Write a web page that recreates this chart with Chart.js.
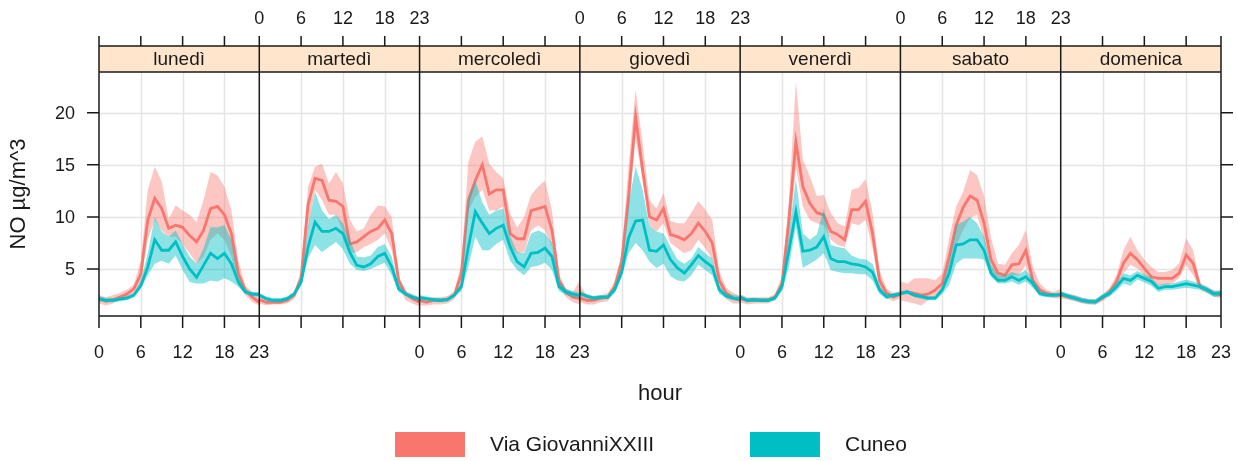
<!DOCTYPE html>
<html>
<head>
<meta charset="utf-8">
<script src="https://cdn.jsdelivr.net/npm/chart.js@4.4.0/dist/chart.umd.min.js"></script>
<style>
  html, body { margin: 0; padding: 0; background: #fff; }
</style>
</head>
<body>
<canvas id="grafico" width="1238" height="461"></canvas>
<script>
// giorni della settimana (pannelli)
const giorni = ["lunedì", "martedì", "mercoledì", "giovedì", "venerdì", "sabato", "domenica"];
const ore = [0, 1, 2, 3, 4, 5, 6, 7, 8, 9, 10, 11, 12, 13, 14, 15, 16, 17, 18, 19, 20, 21, 22, 23];
const oreEtichette = [0, 6, 12, 18, 23];
const yEtichette = [5, 10, 15, 20];
const serie = ["Via GiovanniXXIII", "Cuneo"];

// Via GiovanniXXIII: media, limite inferiore e superiore (una riga per giorno)
const viaMedia = [
  [2.15, 1.9, 2.05, 2.3, 2.6, 3.1, 4.5, 9.7, 11.8, 10.8, 8.9, 9.2, 9.0, 8.2, 7.6, 8.7, 10.8, 11.0, 10.2, 8.4, 4.55, 2.95, 2.3, 1.8],
  [2.05, 1.8, 1.8, 1.8, 2.0, 2.5, 4.1, 11.2, 13.7, 13.5, 11.6, 11.5, 11.0, 7.4, 7.6, 8.1, 8.6, 8.9, 9.7, 8.4, 3.9, 2.6, 2.15, 1.8],
  [2.0, 1.8, 2.0, 2.0, 2.1, 2.5, 4.55, 11.6, 13.5, 15.0, 12.2, 12.6, 12.6, 8.4, 7.9, 7.9, 10.6, 10.8, 11.0, 8.7, 3.9, 2.8, 2.3, 2.15],
  [2.2, 2.0, 2.0, 2.2, 2.3, 3.3, 5.7, 12.0, 19.6, 14.5, 10.0, 9.7, 10.8, 8.3, 8.1, 7.8, 8.4, 9.4, 8.6, 7.5, 3.9, 2.7, 2.2, 2.0],
  [2.2, 1.95, 2.0, 2.0, 2.0, 2.3, 3.6, 9.7, 17.2, 12.9, 11.3, 10.4, 10.2, 8.6, 8.3, 7.8, 10.7, 10.7, 11.5, 8.4, 3.9, 2.7, 2.3, 2.6],
  [2.65, 2.8, 2.65, 2.5, 2.6, 3.0, 3.6, 6.2, 9.2, 10.9, 12.0, 11.6, 9.4, 5.9, 4.6, 4.4, 5.4, 5.5, 6.8, 3.9, 3.0, 2.65, 2.5, 2.5],
  [2.5, 2.35, 2.2, 2.0, 1.85, 1.85, 2.2, 2.8, 3.8, 5.55, 6.5, 5.9, 5.05, 4.25, 4.1, 4.1, 4.1, 4.6, 6.35, 5.55, 3.3, 3.0, 2.65, 2.5]
];
const viaBasso = [
  [1.7, 1.5, 1.7, 2.0, 2.2, 2.7, 3.75, 7.8, 9.7, 8.7, 8.1, 8.1, 7.4, 6.5, 5.5, 6.2, 7.8, 8.4, 7.8, 6.2, 3.4, 2.5, 1.8, 1.5],
  [1.7, 1.5, 1.6, 1.6, 1.7, 2.1, 3.5, 8.7, 12.6, 11.6, 10.2, 10.2, 8.6, 6.5, 6.6, 7.1, 7.4, 7.8, 8.4, 6.8, 3.3, 2.0, 1.7, 1.4],
  [1.5, 1.5, 1.6, 1.6, 1.7, 2.1, 3.5, 10.6, 11.9, 12.6, 10.6, 10.6, 11.0, 7.1, 6.5, 6.6, 8.7, 9.2, 8.7, 7.1, 3.3, 2.3, 1.8, 1.6],
  [1.8, 1.6, 1.6, 1.8, 1.9, 2.8, 4.8, 10.5, 17.6, 13.6, 9.1, 8.6, 9.4, 7.5, 7.0, 6.5, 6.8, 7.8, 7.0, 5.9, 3.0, 2.1, 1.7, 1.7],
  [1.8, 1.6, 1.7, 1.7, 1.7, 2.0, 3.0, 7.8, 14.7, 11.0, 9.7, 9.4, 9.2, 7.8, 7.3, 7.1, 9.4, 9.2, 9.7, 7.0, 3.1, 2.2, 1.9, 2.2],
  [2.0, 1.85, 1.7, 1.5, 2.0, 2.3, 3.0, 4.5, 7.2, 8.75, 9.9, 10.2, 7.8, 4.8, 3.9, 3.8, 4.4, 4.4, 5.4, 3.3, 2.5, 2.35, 2.2, 2.2],
  [2.2, 2.05, 1.9, 1.7, 1.6, 1.6, 1.9, 2.4, 3.3, 4.6, 5.4, 5.05, 4.4, 3.6, 3.45, 3.5, 3.6, 4.1, 5.4, 4.4, 3.0, 2.7, 2.35, 2.2]
];
const viaAlto = [
  [2.5, 2.3, 2.5, 2.7, 3.0, 3.5, 5.8, 12.6, 14.8, 13.4, 9.8, 11.1, 10.6, 10.2, 9.5, 11.6, 14.3, 14.0, 12.9, 10.6, 5.8, 3.4, 2.8, 2.1],
  [2.4, 2.1, 2.1, 2.1, 2.3, 2.8, 4.8, 12.9, 14.8, 15.1, 13.2, 14.3, 13.2, 9.7, 8.6, 8.9, 10.2, 11.1, 11.0, 10.0, 4.3, 2.9, 2.6, 2.3],
  [2.3, 2.1, 2.3, 2.3, 2.4, 2.9, 5.5, 15.3, 17.2, 17.7, 15.1, 14.3, 13.7, 10.3, 9.0, 10.0, 12.1, 12.9, 13.5, 10.6, 4.5, 3.1, 2.8, 3.9],
  [3.5, 2.4, 2.4, 2.5, 2.7, 3.8, 6.5, 15.0, 22.2, 17.1, 11.6, 10.8, 12.3, 9.6, 9.4, 9.4, 10.4, 11.5, 10.7, 9.7, 4.8, 3.2, 2.7, 2.4],
  [2.6, 2.3, 2.3, 2.3, 2.3, 2.6, 4.3, 11.6, 23.0, 15.5, 13.9, 12.0, 12.1, 10.4, 9.4, 9.1, 12.6, 12.8, 13.6, 10.4, 4.9, 3.1, 2.7, 2.9],
  [3.8, 3.6, 4.1, 4.1, 4.1, 3.9, 4.6, 8.0, 11.0, 12.4, 14.5, 14.0, 12.0, 8.0, 5.5, 5.4, 6.5, 7.3, 8.75, 5.2, 3.6, 3.0, 2.8, 3.1],
  [2.8, 2.65, 2.5, 2.3, 2.1, 2.1, 2.5, 3.2, 4.4, 6.8, 8.1, 6.8, 5.9, 5.2, 4.7, 4.7, 4.9, 5.55, 7.95, 6.8, 3.6, 3.3, 2.95, 2.8]
];

// Cuneo: media, limite inferiore e superiore
const cuneoMedia = [
  [2.15, 2.0, 2.0, 2.1, 2.2, 2.5, 3.4, 5.2, 7.8, 6.8, 6.8, 7.6, 6.2, 5.0, 4.2, 5.35, 6.5, 6.0, 6.5, 5.5, 3.75, 2.8, 2.6, 2.55],
  [2.5, 2.15, 2.0, 2.0, 2.15, 2.6, 3.75, 7.1, 9.5, 8.6, 8.6, 8.9, 8.4, 6.6, 5.35, 5.2, 5.5, 6.2, 6.5, 5.2, 3.1, 2.6, 2.3, 2.1],
  [2.25, 2.15, 2.05, 2.0, 2.05, 2.5, 3.3, 7.1, 10.5, 9.4, 8.4, 8.9, 9.2, 7.1, 5.7, 5.2, 6.5, 6.6, 7.0, 6.2, 3.3, 2.8, 2.6, 2.45],
  [2.65, 2.4, 2.2, 2.3, 2.3, 3.0, 4.7, 8.0, 9.6, 9.7, 6.8, 6.7, 7.3, 5.9, 5.1, 4.6, 5.4, 6.3, 5.7, 5.2, 3.0, 2.4, 2.2, 2.1],
  [2.3, 2.0, 2.05, 2.0, 2.0, 2.2, 3.3, 6.8, 10.5, 6.7, 6.8, 7.1, 8.1, 6.0, 5.7, 5.7, 5.5, 5.4, 5.2, 4.7, 3.0, 2.35, 2.5, 2.6],
  [2.65, 2.8, 2.5, 2.35, 2.2, 2.2, 3.0, 4.6, 7.3, 7.4, 7.8, 7.8, 6.8, 4.6, 3.9, 3.9, 4.25, 3.9, 4.25, 3.6, 2.65, 2.5, 2.5, 2.55],
  [2.65, 2.4, 2.2, 2.0, 1.9, 1.85, 2.35, 2.65, 3.3, 4.1, 3.9, 4.4, 4.1, 3.8, 3.15, 3.3, 3.3, 3.45, 3.6, 3.45, 3.3, 3.0, 2.6, 2.7]
];
const cuneoBasso = [
  [1.9, 1.8, 1.8, 1.9, 2.0, 2.3, 3.1, 4.4, 5.5, 5.8, 5.5, 6.3, 4.9, 3.75, 3.6, 3.6, 3.9, 3.8, 4.1, 3.8, 3.3, 2.6, 2.4, 2.3],
  [2.3, 1.95, 1.8, 1.8, 1.95, 2.4, 3.4, 6.0, 7.3, 6.6, 7.1, 7.6, 6.9, 5.5, 4.9, 4.8, 5.0, 5.3, 5.6, 4.4, 2.8, 2.4, 2.1, 1.9],
  [2.0, 1.95, 1.85, 1.8, 1.85, 2.3, 2.9, 5.2, 8.1, 6.8, 6.8, 7.4, 7.8, 5.8, 4.9, 4.4, 5.2, 5.3, 5.6, 4.9, 2.9, 2.5, 2.3, 2.2],
  [2.4, 2.2, 2.0, 2.1, 2.1, 2.7, 4.2, 6.5, 7.5, 6.8, 5.7, 5.1, 5.5, 4.3, 3.9, 3.8, 4.4, 5.4, 4.9, 4.4, 2.6, 2.2, 2.0, 1.9],
  [2.1, 1.8, 1.85, 1.8, 1.8, 2.0, 2.9, 5.2, 9.1, 5.1, 5.5, 5.9, 6.5, 4.9, 4.7, 4.6, 4.6, 4.5, 4.5, 3.9, 2.6, 2.1, 2.3, 2.4],
  [2.45, 2.6, 2.3, 2.15, 2.0, 2.0, 2.6, 3.5, 5.5, 6.0, 6.0, 6.0, 5.9, 4.25, 3.6, 3.6, 3.8, 3.5, 3.8, 3.2, 2.4, 2.3, 2.3, 2.35],
  [2.4, 2.15, 1.95, 1.75, 1.65, 1.6, 2.1, 2.35, 2.9, 3.6, 3.4, 4.0, 3.7, 3.4, 2.8, 3.0, 3.0, 3.1, 3.2, 3.1, 3.0, 2.7, 2.3, 2.4]
];
const cuneoAlto = [
  [2.4, 2.2, 2.2, 2.3, 2.4, 2.7, 3.9, 6.5, 10.0, 8.6, 8.1, 8.7, 7.4, 6.2, 5.5, 7.0, 9.0, 9.0, 9.2, 7.8, 4.2, 3.0, 2.8, 2.8],
  [2.7, 2.35, 2.2, 2.2, 2.35, 2.8, 4.1, 9.0, 12.4, 10.6, 9.8, 10.2, 9.4, 7.8, 6.2, 6.1, 6.3, 7.1, 7.4, 6.2, 3.5, 2.8, 2.5, 2.3],
  [2.5, 2.35, 2.25, 2.2, 2.25, 2.7, 3.7, 11.9, 13.5, 11.4, 10.2, 10.6, 10.8, 8.2, 6.6, 6.5, 8.4, 8.7, 8.4, 7.5, 3.8, 3.1, 2.9, 2.7],
  [2.9, 2.6, 2.4, 2.5, 2.5, 3.3, 5.2, 11.3, 14.8, 12.6, 9.1, 8.6, 8.4, 7.1, 5.9, 5.5, 6.0, 7.1, 6.5, 6.0, 3.4, 2.7, 2.5, 2.4],
  [2.5, 2.2, 2.25, 2.2, 2.2, 2.4, 3.7, 8.4, 13.6, 8.4, 7.8, 8.3, 10.8, 7.3, 7.1, 7.0, 6.3, 6.0, 5.9, 5.5, 3.4, 2.6, 2.7, 2.8],
  [2.85, 3.0, 2.7, 2.55, 2.4, 2.4, 3.4, 5.8, 9.2, 9.55, 10.0, 9.4, 8.1, 5.4, 4.4, 4.4, 4.7, 4.5, 4.9, 4.1, 2.9, 2.7, 2.7, 2.75],
  [2.9, 2.65, 2.45, 2.25, 2.15, 2.1, 2.6, 2.95, 3.7, 4.6, 4.4, 4.8, 4.5, 4.2, 3.5, 3.6, 3.6, 3.8, 4.0, 3.8, 3.6, 3.3, 2.9, 3.0]
];

// colori
const rosso = "#F8766D";
const rossoBanda = "rgba(248, 118, 109, 0.42)";
const verde = "#00BFC4";
const verdeBanda = "rgba(0, 191, 196, 0.45)";
const font = "'Liberation Sans', Arial, sans-serif";

// ogni giorno occupa 23 unità sull'asse x
const ORE_GIORNO = 23;

function punti(valori, d) {
  return ore.map((h, i) => ({ x: d * ORE_GIORNO + h, y: valori[d][i] }));
}

// costruisce i dataset: banda (basso + alto riempito) e linea media
const datasets = [];
const gruppi = [
  { media: viaMedia, basso: viaBasso, alto: viaAlto, linea: rosso, banda: rossoBanda, ordBanda: 4, ordLinea: 3 },
  { media: cuneoMedia, basso: cuneoBasso, alto: cuneoAlto, linea: verde, banda: verdeBanda, ordBanda: 2, ordLinea: 1 }
];
gruppi.forEach(g => {
  giorni.forEach((giorno, d) => {
    const iBasso = datasets.length;
    datasets.push({
      data: punti(g.basso, d),
      borderColor: "rgba(0,0,0,0)",
      borderWidth: 1,
      pointRadius: 0,
      fill: false,
      order: g.ordBanda
    });
    datasets.push({
      data: punti(g.alto, d),
      borderColor: "rgba(0,0,0,0)",
      borderWidth: 1,
      pointRadius: 0,
      backgroundColor: g.banda,
      fill: iBasso,
      order: g.ordBanda
    });
    datasets.push({
      data: punti(g.media, d),
      borderColor: g.linea,
      borderWidth: 2.8,
      pointRadius: 0,
      fill: false,
      order: g.ordLinea
    });
  });
});

// griglia, strisce, cornici, tacche ed etichette
const cornice = {
  id: "cornice",
  beforeDatasetsDraw(chart) {
    const { ctx, chartArea: a, scales: { x, y } } = chart;
    ctx.save();
    ctx.strokeStyle = "#e4e4e4";
    ctx.lineWidth = 1.5;
    yEtichette.forEach(v => {
      const py = Math.round(y.getPixelForValue(v)) + 0.5;
      ctx.beginPath(); ctx.moveTo(a.left, py); ctx.lineTo(a.right, py); ctx.stroke();
    });
    giorni.forEach((g, d) => {
      [6, 12, 18].forEach(h => {
        const px = Math.round(x.getPixelForValue(d * ORE_GIORNO + h)) + 0.5;
        ctx.beginPath(); ctx.moveTo(px, a.top); ctx.lineTo(px, a.bottom); ctx.stroke();
      });
    });
    ctx.restore();
  },
  afterDatasetsDraw(chart) {
    const { ctx, chartArea: a, scales: { x, y } } = chart;
    const stripTop = a.top - 26;
    ctx.save();

    // strisce con i nomi dei giorni
    giorni.forEach((g, d) => {
      const x0 = x.getPixelForValue(d * ORE_GIORNO);
      const x1 = x.getPixelForValue((d + 1) * ORE_GIORNO);
      ctx.fillStyle = "#FFE5CC";
      ctx.fillRect(x0, stripTop, x1 - x0, a.top - stripTop);
      ctx.fillStyle = "#1a1a1a";
      ctx.font = "19px " + font;
      ctx.textAlign = "center";
      ctx.textBaseline = "middle";
      ctx.fillText(g, (x0 + x1) / 2, (stripTop + a.top) / 2 + 1);
    });

    // linee della cornice
    ctx.strokeStyle = "#1a1a1a";
    ctx.lineWidth = 1.5;
    ctx.beginPath();
    [stripTop, a.top, a.bottom].forEach(py => {
      ctx.moveTo(a.left, py); ctx.lineTo(a.right, py);
    });
    for (let d = 0; d <= giorni.length; d++) {
      const px = x.getPixelForValue(d * ORE_GIORNO);
      ctx.moveTo(px, stripTop); ctx.lineTo(px, a.bottom);
    }
    ctx.stroke();

    // tacche e etichette dell'asse x (alternate sotto e sopra)
    ctx.font = "18px " + font;
    ctx.fillStyle = "#1a1a1a";
    ctx.textAlign = "center";
    ctx.textBaseline = "middle";
    ctx.beginPath();
    giorni.forEach((g, d) => {
      oreEtichette.forEach(h => {
        const px = x.getPixelForValue(d * ORE_GIORNO + h);
        ctx.moveTo(px, stripTop - 10); ctx.lineTo(px, stripTop);
        ctx.moveTo(px, a.bottom); ctx.lineTo(px, a.bottom + 12);
        if (d % 2 === 0) {
          ctx.fillText(String(h), px, a.bottom + 37);
        } else {
          ctx.fillText(String(h), px, stripTop - 27);
        }
      });
    });
    // tacche e etichette dell'asse y
    ctx.textAlign = "right";
    yEtichette.forEach(v => {
      const py = y.getPixelForValue(v);
      ctx.moveTo(a.left - 12, py); ctx.lineTo(a.left, py);
      ctx.moveTo(a.right, py); ctx.lineTo(a.right + 12, py);
      ctx.fillText(String(v), a.left - 24, py + 1);
    });
    ctx.stroke();

    // titoli degli assi
    ctx.font = "22px " + font;
    ctx.textAlign = "center";
    ctx.fillText("hour", (a.left + a.right) / 2, 394);
    ctx.save();
    ctx.translate(19, (a.top + a.bottom) / 2);
    ctx.rotate(-Math.PI / 2);
    ctx.fillText("NO µg/m^3", 0, 0);
    ctx.restore();

    // legenda
    const voci = [
      { testo: serie[0], colore: rosso, x: 395 },
      { testo: serie[1], colore: verde, x: 750 }
    ];
    ctx.font = "21px " + font;
    ctx.textAlign = "left";
    voci.forEach(v => {
      ctx.fillStyle = v.colore;
      ctx.fillRect(v.x, 432, 70, 25);
      ctx.fillStyle = "#1a1a1a";
      ctx.fillText(v.testo, v.x + 95, 445);
    });
    ctx.restore();
  }
};

const ctx = document.getElementById("grafico").getContext("2d");
new Chart(ctx, {
  type: "line",
  data: { datasets: datasets },
  options: {
    responsive: false,
    animation: false,
    devicePixelRatio: 1,
    layout: { padding: { left: 99, right: 17, top: 72, bottom: 145 } },
    elements: { line: { tension: 0 } },
    scales: {
      x: { type: "linear", min: 0, max: giorni.length * ORE_GIORNO, display: false },
      y: { type: "linear", min: 0.49, max: 23.9, display: false }
    },
    plugins: {
      legend: { display: false },
      tooltip: { enabled: false }
    }
  },
  plugins: [cornice]
});
</script>
</body>
</html>
